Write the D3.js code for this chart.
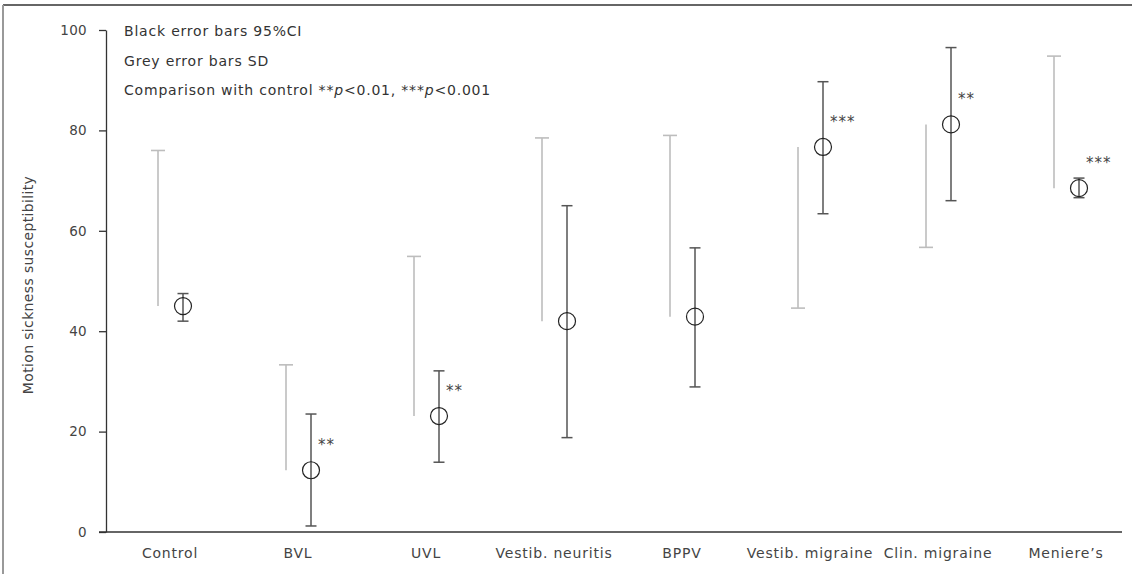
<!DOCTYPE html>
<html><head><meta charset="utf-8">
<script src="https://cdn.jsdelivr.net/npm/d3@7"></script>
<style>
html,body{margin:0;padding:0;background:#fff;}
svg{display:block;font-family:"DejaVu Sans",sans-serif;}
</style></head>
<body>
<svg id="chart" width="1132" height="574"></svg>
<script>
const categories = ["Control","BVL","UVL","Vestib. neuritis","BPPV","Vestib. migraine","Clin. migraine","Meniere\u2019s"];
const means  = [45.0, 12.3, 23.1, 42.0, 42.9, 76.7, 81.2, 68.5];
const ciLow  = [42.0, 1.2, 13.9, 18.8, 28.9, 63.4, 66.0, 66.6];
const ciHigh = [47.5, 23.5, 32.1, 65.0, 56.6, 89.7, 96.5, 70.5];
const sdEnd  = [76.0, 33.3, 54.9, 78.5, 79.0, 44.6, 56.7, 94.8];
const stars  = ["", "**", "**", "", "", "***", "**", "***"];
const yTicks = [0, 20, 40, 60, 80, 100];
const legendLines = ["Black error bars 95%CI", "Grey error bars SD", "Comparison with control"];

const svg = d3.select("#chart");
const W = 1132, H = 574;
const m = {left: 106};
const x = d3.scaleBand().domain(categories).range([106, 1130]);
const y = d3.scaleLinear().domain([0, 100]).range([532, 30]);
const ink = "#333";

// frame
svg.append("line").attr("x1", 3).attr("x2", W).attr("y1", 5).attr("y2", 5)
  .attr("stroke", "#333").attr("stroke-width", 1.5);
svg.append("line").attr("x1", 3).attr("x2", 3).attr("y1", 5).attr("y2", H)
  .attr("stroke", "#999").attr("stroke-width", 2);

// y axis
const yAxis = svg.append("g").attr("transform", `translate(${m.left},0)`)
  .call(d3.axisLeft(y).tickValues(yTicks).tickSize(7).tickPadding(12).tickSizeOuter(0));
yAxis.select(".domain").attr("stroke", ink).attr("stroke-width", 1.3);
yAxis.selectAll(".tick line").attr("stroke", ink).attr("stroke-width", 1.3);
yAxis.selectAll(".tick text").attr("fill", "#444").attr("font-size", 13.5)
  .attr("letter-spacing", 0.3)
  .attr("font-family", '"DejaVu Sans",sans-serif');

// x axis line
svg.append("line").attr("x1", 99).attr("x2", 1122).attr("y1", y(0)).attr("y2", y(0))
  .attr("stroke", ink).attr("stroke-width", 1.3);
svg.append("g").selectAll("text").data(categories).join("text")
  .attr("x", d => x(d) + x.bandwidth()/2)
  .attr("y", 558)
  .attr("text-anchor", "middle").attr("fill", "#444").attr("font-size", 14)
  .attr("letter-spacing", 0.8)
  .text(d => d);

// y title
svg.append("text").attr("transform", "translate(33,285) rotate(-90)")
  .attr("text-anchor", "middle").attr("fill", "#444").attr("font-size", 14)
  .attr("letter-spacing", 0.35)
  .text("Motion sickness susceptibility");

// legend
const lg = svg.append("g").attr("fill", "#333").attr("font-size", 14).attr("letter-spacing", 0.8);
lg.append("text").attr("x", 124).attr("y", 36).text(legendLines[0]);
lg.append("text").attr("x", 124).attr("y", 66).text(legendLines[1]);
const t3 = lg.append("text").attr("x", 124).attr("y", 95);
t3.append("tspan").text(legendLines[2] + " ");
t3.append("tspan").text("**");
t3.append("tspan").attr("font-style", "italic").text("p");
t3.append("tspan").text("<0.01, ***");
t3.append("tspan").attr("font-style", "italic").text("p");
t3.append("tspan").text("<0.001");

const cx = i => x(categories[i]) + x.bandwidth()/2;
const idx = d3.range(categories.length);
const gOff = -12, bOff = 13;

// grey SD bars
const g1 = svg.append("g").attr("stroke", "#bdbdbd").attr("stroke-width", 1.6);
g1.selectAll("line.v").data(idx).join("line").attr("class", "v")
  .attr("x1", i => cx(i) + gOff).attr("x2", i => cx(i) + gOff)
  .attr("y1", i => y(means[i])).attr("y2", i => y(sdEnd[i]));
g1.selectAll("line.c").data(idx).join("line").attr("class", "c")
  .attr("x1", i => cx(i) + gOff - 7).attr("x2", i => cx(i) + gOff + 7)
  .attr("y1", i => y(sdEnd[i])).attr("y2", i => y(sdEnd[i]));

// black CI bars
const g2 = svg.append("g").attr("stroke", "#555").attr("stroke-width", 1.5);
g2.selectAll("line.v").data(idx).join("line").attr("class", "v")
  .attr("x1", i => cx(i) + bOff).attr("x2", i => cx(i) + bOff)
  .attr("y1", i => y(ciLow[i])).attr("y2", i => y(ciHigh[i]));
g2.selectAll("line.h").data(idx).join("line").attr("class", "h")
  .attr("x1", i => cx(i) + bOff - 5.5).attr("x2", i => cx(i) + bOff + 5.5)
  .attr("y1", i => y(ciHigh[i])).attr("y2", i => y(ciHigh[i]));
g2.selectAll("line.l").data(idx).join("line").attr("class", "l")
  .attr("x1", i => cx(i) + bOff - 5.5).attr("x2", i => cx(i) + bOff + 5.5)
  .attr("y1", i => y(ciLow[i])).attr("y2", i => y(ciLow[i]));

// means
svg.append("g").selectAll("circle").data(idx).join("circle")
  .attr("cx", i => cx(i) + bOff).attr("cy", i => y(means[i])).attr("r", 8.5)
  .attr("fill", "none").attr("stroke", "#222").attr("stroke-width", 1.2);

// stars
svg.append("g").selectAll("text").data(idx.filter(i => stars[i])).join("text")
  .attr("x", i => cx(i) + bOff + 7).attr("y", i => y(means[i]) - 20)
  .attr("fill", "#444").attr("font-size", 15).attr("letter-spacing", 1).text(i => stars[i]);
</script>
</body></html>
